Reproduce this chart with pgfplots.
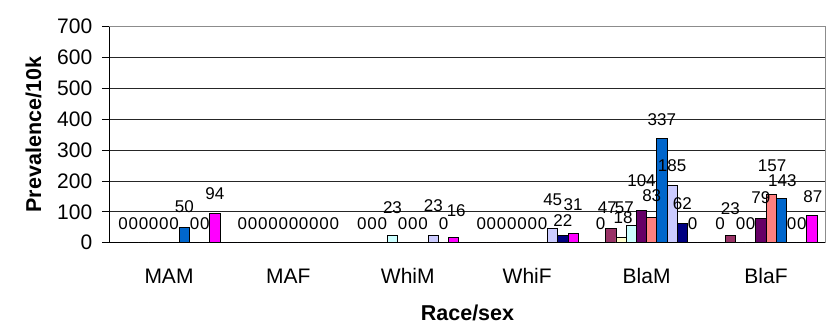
\documentclass[border=0pt]{standalone}
\usepackage{pgfplots}
\pgfplotsset{compat=1.18}
\usepackage{pgfplotstable}
\usepackage{fontspec}
\setmainfont{Liberation Sans}

\definecolor{s1}{HTML}{9999FF}
\definecolor{s2}{HTML}{993366}
\definecolor{s3}{HTML}{FFFFCC}
\definecolor{s4}{HTML}{CCFFFF}
\definecolor{s5}{HTML}{660066}
\definecolor{s6}{HTML}{FF8080}
\definecolor{s7}{HTML}{0066CC}
\definecolor{s8}{HTML}{CCCCFF}
\definecolor{s9}{HTML}{000080}
\definecolor{s10}{HTML}{FF00FF}

% values per series (s1..s10) for MAM, MAF, WhiM, WhiF, BlaM, BlaF,
% then extra vertical (o) and horizontal (h) offsets of the value labels, in pt
\pgfplotstableread{
x s1 s2 s3 s4 s5 s6 s7 s8 s9 s10 o1 o2 o3 o4 o5 o6 o7 o8 o9 o10 h1 h2 h3 h4 h5 h6 h7 h8 h9 h10
0 0 0 0 0 0 0 50 0 0 94 0 0 0 0 0 0 0.8 0 0 0 0 0 0 0 0 0 0 0 0 0
1 0 0 0 0 0 0 0 0 0 0 0 0 0 0 0 0 0 0 0 0 0 0 0 0 0 0 0 0 0 0
2 0 0 0 23 0 0 0 23 0 16 0 0 0 8.3 0 0 0 10.3 0 7.3 0 0 0 0 0 0 0 0 0 2.5
3 0 0 0 0 0 0 0 45 22 31 0 0 0 0 0 0 0 10 -4.7 9.3 0 0 0 0 0 0 0 0 0 0
4 0 47 18 57 104 83 337 185 62 0 0 1.3 0 -2 10.3 1.7 0 0 0 0 0 -3.5 2 -7 0 0 0 0 0 0
5 0 23 0 0 79 157 143 0 0 87 0 7 0 0 1.3 9 -1.7 0 0 0 0 0 0 0 0 1 1 0 0 1
}\datatable

\pgfplotsset{
  barsty/.style={draw=black, line width=0.9pt},
  lblsty/.style={draw=none, fill=none, forget plot, nodes near coords,
    visualization depends on={\thisrow{o#1} \as \dy},
    visualization depends on={\thisrow{h#1} \as \dx},
    every node near coord/.append style={yshift=\dy pt, xshift=\dx pt}},
}

\begin{document}
\begin{tikzpicture}
\begin{axis}[
  scale only axis, width=716.4pt, height=216pt,
  xmin=-0.5, xmax=5.5, ymin=0, ymax=700,
  ybar, bar width=0.0855,
  clip=false,
  /pgf/number format/assume math mode=true,
  axis x line*=bottom, axis y line*=left,
  axis line style={black, line width=0.9pt, -},
  xtick={0,1,2,3,4,5},
  xticklabels={MAM,MAF,WhiM,WhiF,BlaM,BlaF},
  x tick style={draw=none},
  extra x ticks={-0.5,0.5,1.5,2.5,3.5,4.5,5.5},
  extra x tick labels={},
  extra x tick style={tick style={draw=black, line width=0.9pt}, major tick length=6.5pt, tick align=outside},
  ytick={0,100,...,700},
  y tick style={black, line width=0.9pt},
  tick align=outside, major tick length=7.5pt,
  ymajorgrids, grid style={black!85, line width=0.8pt},
  tick label style={font=\fontsize{21}{24}\selectfont},
  xticklabel style={anchor=base, yshift=-33.3pt},
  yticklabel style={anchor=east, xshift=-6pt},
  xlabel={Race/sex}, ylabel={Prevalence/10k},
  every axis x label/.style={at={(axis description cs:0.5,0)}, anchor=base, yshift=-77.3pt, font=\bfseries\fontsize{21.5}{24}\selectfont},
  every axis y label/.style={at={(axis description cs:-0.1058,0.5)}, rotate=90, anchor=center, font=\bfseries\fontsize{21.5}{24}\selectfont},
  every node near coord/.append style={font=\fontsize{17}{20}\selectfont, anchor=base, yshift=13.7pt, text=black},
]
\addplot[barsty, fill=s1,  bar shift=-0.38475] table[x=x,y=s1]{\datatable};
\addplot[barsty, fill=s2,  bar shift=-0.29925] table[x=x,y=s2]{\datatable};
\addplot[barsty, fill=s3,  bar shift=-0.21375] table[x=x,y=s3]{\datatable};
\addplot[barsty, fill=s4,  bar shift=-0.12825] table[x=x,y=s4]{\datatable};
\addplot[barsty, fill=s5,  bar shift=-0.04275] table[x=x,y=s5]{\datatable};
\addplot[barsty, fill=s6,  bar shift=0.04275] table[x=x,y=s6]{\datatable};
\addplot[barsty, fill=s7,  bar shift=0.12825] table[x=x,y=s7]{\datatable};
\addplot[barsty, fill=s8,  bar shift=0.21375] table[x=x,y=s8]{\datatable};
\addplot[barsty, fill=s9,  bar shift=0.29925] table[x=x,y=s9]{\datatable};
\addplot[barsty, fill=s10, bar shift=0.38475] table[x=x,y=s10]{\datatable};

\addplot[lblsty=1,  bar shift=-0.38475] table[x=x,y=s1]{\datatable};
\addplot[lblsty=2,  bar shift=-0.29925] table[x=x,y=s2]{\datatable};
\addplot[lblsty=3,  bar shift=-0.21375] table[x=x,y=s3]{\datatable};
\addplot[lblsty=4,  bar shift=-0.12825] table[x=x,y=s4]{\datatable};
\addplot[lblsty=5,  bar shift=-0.04275] table[x=x,y=s5]{\datatable};
\addplot[lblsty=6,  bar shift=0.04275] table[x=x,y=s6]{\datatable};
\addplot[lblsty=7,  bar shift=0.12825] table[x=x,y=s7]{\datatable};
\addplot[lblsty=8,  bar shift=0.21375] table[x=x,y=s8]{\datatable};
\addplot[lblsty=9,  bar shift=0.29925] table[x=x,y=s9]{\datatable};
\addplot[lblsty=10, bar shift=0.38475] table[x=x,y=s10]{\datatable};

\draw[black!45, line width=1.3pt] (rel axis cs:0,1) -- (rel axis cs:1,1) -- (rel axis cs:1,0);
\end{axis}
\pgfresetboundingbox
\path[use as bounding box] (current axis.south west) ++(-109.3pt,-83.3pt) rectangle ++(834pt,326pt);
\end{tikzpicture}
\end{document}
